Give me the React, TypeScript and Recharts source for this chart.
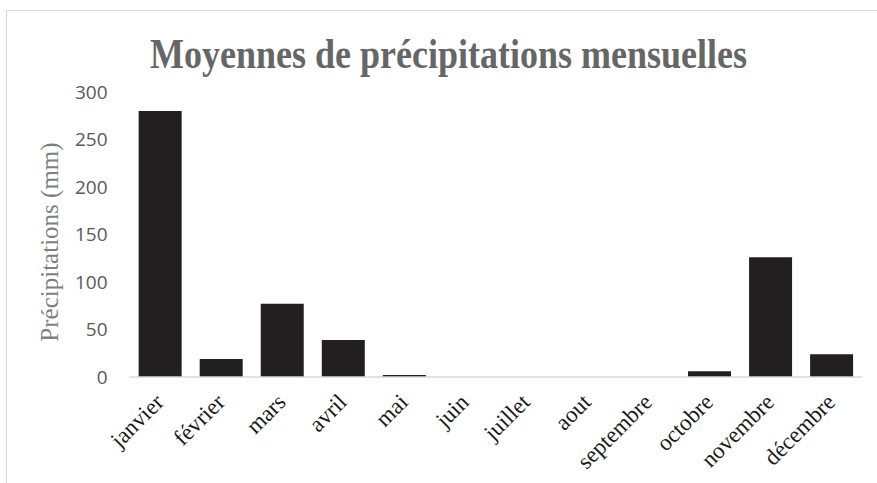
import React from 'react';
import { BarChart, Bar, XAxis, YAxis } from 'recharts';

const months = ['janvier', 'février', 'mars', 'avril', 'mai', 'juin', 'juillet', 'aout', 'septembre', 'octobre', 'novembre', 'décembre'];
const precipitation = [280, 19, 77, 39, 2, 0, 0, 0, 0, 6, 126, 24];
const yTicks = [0, 50, 100, 150, 200, 250, 300];

const data = months.map((m, i) => ({ month: m, value: precipitation[i] }));

const XTick = (props: any) => {
  const { x, y, payload } = props;
  const ax = x + 5;
  const ay = y + 24.5;
  return (
    <g transform={`translate(${ax}, ${ay}) rotate(-45)`}>
      <text
        x={0}
        y={0}
        textAnchor="end"
        fontFamily="'Liberation Serif', 'Times New Roman', serif"
        fontSize={23}
        fill="#1a1a1a"
      >
        {payload.value}
      </text>
    </g>
  );
};

export default function App() {
  return (
    <div style={{ position: 'absolute', left: 0, top: 0, width: 877, height: 483, overflow: 'hidden', background: '#fff' }}>
      <div style={{ position: 'absolute', left: 6, top: 10, width: 1000, height: 1000, border: '1px solid #d9d9d9' }} />
      <div
        style={{
          position: 'absolute',
          left: 0,
          top: 32,
          width: 877,
          textAlign: 'center',
          fontFamily: "'Liberation Serif', 'Times New Roman', serif",
          fontWeight: 'bold',
          fontSize: 36,
          color: '#666666',
          lineHeight: '44px',
          transform: 'translateX(10px) scaleY(1.2)',
        }}
      >
        Moyennes de précipitations mensuelles
      </div>
      <svg style={{ position: 'absolute', left: 0, top: 0 }} width={877} height={483}>
        <text
          x={49}
          y={242}
          transform="rotate(-90, 49, 242)"
          textAnchor="middle"
          dominantBaseline="central"
          fontFamily="'Liberation Serif', 'Times New Roman', serif"
          fontSize={25}
          fill="#7f7f7f"
        >
          Précipitations (mm)
        </text>
      </svg>
      <div style={{ position: 'absolute', left: 0, top: 0 }}>
        <BarChart width={877} height={483} data={data} margin={{ top: 92, right: 15, bottom: 76, left: 0 }} barCategoryGap="15%">
          <XAxis
            dataKey="month"
            tick={<XTick />}
            tickLine={false}
            tickSize={0}
            height={30}
            interval={0}
            axisLine={{ stroke: '#d9d9d9', strokeWidth: 1.5 }}
          />
          <YAxis
            domain={[0, 300]}
            ticks={yTicks}
            width={129.5}
            axisLine={false}
            tickLine={false}
            tickSize={0}
            tickMargin={22}
            tick={{ fill: '#595959', fontSize: 19, fontFamily: "'Open Sans', sans-serif" }}
          />
          <Bar dataKey="value" fill="#231f20" isAnimationActive={false} />
        </BarChart>
      </div>
    </div>
  );
}
